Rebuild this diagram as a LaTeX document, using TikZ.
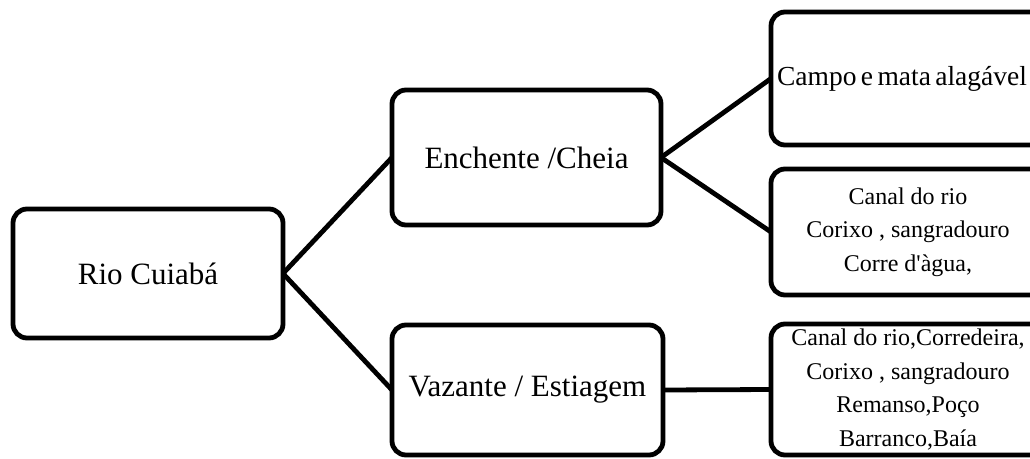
\documentclass[tikz,border=0pt]{standalone}
\usepackage{fontspec}
\setmainfont{Liberation Serif}[Ligatures=TeXOff]
\begin{document}
\begin{tikzpicture}[x=1pt,y=-1pt,
  box/.style={draw=black, line width=4.8pt, rounded corners=14pt, inner sep=0pt, outer sep=0pt, align=center, fill=white},
  bigtxt/.style={font=\fontsize{31}{36}\selectfont},
  smalltxt/.style={font=\fontsize{24}{33.5}\selectfont},
  link/.style={draw=black, line width=4.8pt}]
\useasboundingbox (0,0) rectangle (1030,458);
\clip (0,0) rectangle (1030,458);
\node[box, bigtxt, minimum width=270pt, minimum height=129pt] (rio) at (148,273.5) {Rio Cuiabá};
\node[box, bigtxt, minimum width=269pt, minimum height=135pt] (enc) at (526.5,157.5) {Enchente /Cheia};
\node[box, bigtxt, minimum width=271pt, minimum height=130pt] (vaz) at (527.5,390) {Vazante / Estiagem};
\node[box, font=\fontsize{27.5}{30}\selectfont, minimum width=274pt, minimum height=133pt] (campo) at (908,78.5) {\hspace*{-12pt}\spaceskip=0.16em Campo e mata alagável};
\node[box, smalltxt, minimum width=274pt, minimum height=126pt] (canal) at (908,232) {Canal do rio\\Corixo , sangradouro\\Corre d'àgua,};
\node[box, smalltxt, minimum width=274pt, minimum height=131pt] (canal2) at (908,389.5) {Canal do rio,Corredeira,\\Corixo , sangradouro\\Remanso,Poço\\Barranco,Baía};
\draw[link] (rio.east) -- (enc.west);
\draw[link] (rio.east) -- (vaz.west);
\draw[link] (enc.east) -- (campo.west);
\draw[link] (enc.east) -- (canal.west);
\draw[link] (vaz.east) -- (canal2.west);
\end{tikzpicture}
\end{document}
